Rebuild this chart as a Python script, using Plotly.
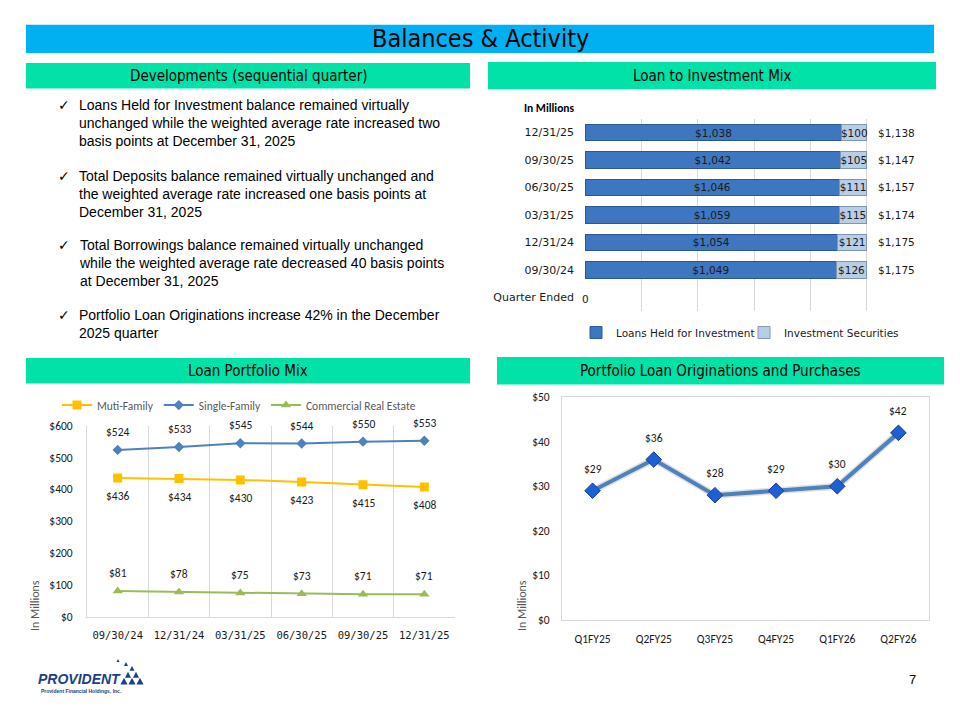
import plotly.graph_objects as go

# ---------------- data ----------------
quarters = ["09/30/24", "12/31/24", "03/31/25", "06/30/25", "09/30/25", "12/31/25"]
loans_hfi = [1049, 1054, 1059, 1046, 1042, 1038]
inv_sec = [126, 121, 115, 111, 105, 100]
bar_axis_label = "Quarter Ended"

mix_quarters = ["09/30/24", "12/31/24", "03/31/25", "06/30/25", "09/30/25", "12/31/25"]
multi_family = [436, 434, 430, 423, 415, 408]
single_family = [524, 533, 545, 544, 550, 553]
cre = [81, 78, 75, 73, 71, 71]

orig_periods = ["Q1FY25", "Q2FY25", "Q3FY25", "Q4FY25", "Q1FY26", "Q2FY26"]
originations = [29, 36, 28, 29, 30, 42]

bullets = [
    "Loans Held for Investment balance remained virtually<br>unchanged while the weighted average rate increased two<br>basis points at December 31, 2025",
    "Total Deposits balance remained virtually unchanged and<br>the weighted average rate increased one basis points at<br>December 31, 2025",
    "Total Borrowings balance remained virtually unchanged<br>while the weighted average rate decreased 40 basis points<br>at December 31, 2025",
    "Portfolio Loan Originations increase 42% in the December<br>2025 quarter",
]

# ---------------- helpers ----------------
W, H = 960, 720
def px(x):
    return x / W
def py(y):
    return 1 - y / H

NARROW = "Liberation Sans Narrow, DejaVu Sans Condensed, Arial Narrow, sans-serif"
BODY = "Liberation Sans, Arial, sans-serif"
CAL = "Carlito, Liberation Sans, Arial, sans-serif"
VER = "DejaVu Sans, Verdana, sans-serif"

def money(v):
    return "${:,}".format(v)

fig = go.Figure()

# ---------------- Loan to Investment Mix (100% stacked bar) ----------------
fig.add_trace(go.Bar(
    y=quarters, x=loans_hfi, orientation="h", name="Loans Held for Investment",
    marker=dict(color="#3E76BF", line=dict(color="#2B5796", width=1)),
    text=[money(v) for v in loans_hfi], textposition="inside", insidetextanchor="middle",
    textangle=0, constraintext="none",
    textfont=dict(size=10.5, color="#1a1a1a", family=VER),
    xaxis="x", yaxis="y", legend="legend", hoverinfo="skip",
))
fig.add_trace(go.Bar(
    y=quarters, x=inv_sec, orientation="h", name="Investment Securities",
    marker=dict(color="#B9CDE5", line=dict(color="#8096B5", width=1)),
    text=[money(v) for v in inv_sec], textposition="inside", insidetextanchor="middle",
    textangle=0, constraintext="none",
    textfont=dict(size=10.5, color="#1a1a1a", family=VER),
    xaxis="x", yaxis="y", legend="legend", hoverinfo="skip",
))

# ---------------- Loan Portfolio Mix ----------------
fig.add_trace(go.Scatter(
    x=mix_quarters, y=multi_family, name="Muti-Family", mode="lines+markers",
    line=dict(color="#FFC000", width=2), marker=dict(symbol="square", size=9, color="#FFC000"),
    xaxis="x2", yaxis="y2", legend="legend2", hoverinfo="skip",
))
fig.add_trace(go.Scatter(
    x=mix_quarters, y=single_family, name="Single-Family", mode="lines+markers",
    line=dict(color="#4F81BD", width=2), marker=dict(symbol="diamond", size=8, color="#4F81BD"),
    xaxis="x2", yaxis="y2", legend="legend2", hoverinfo="skip",
))
fig.add_trace(go.Scatter(
    x=mix_quarters, y=cre, name="Commercial Real Estate", mode="lines+markers",
    line=dict(color="#9BBB59", width=2), marker=dict(symbol="triangle-up", size=9, color="#9BBB59"),
    xaxis="x2", yaxis="y2", legend="legend2", hoverinfo="skip",
))

# ---------------- Portfolio Loan Originations ----------------
fig.add_trace(go.Scatter(
    x=orig_periods, y=originations, mode="lines", showlegend=False,
    line=dict(color="rgba(120,120,120,0.22)", width=7),
    xaxis="x3", yaxis="y3", hoverinfo="skip",
))
fig.add_trace(go.Scatter(
    x=orig_periods, y=originations, mode="lines+markers", showlegend=False,
    line=dict(color="#4F81BD", width=4),
    marker=dict(symbol="diamond", size=12, color="#1F5FD6", line=dict(color="#173F8A", width=1)),
    xaxis="x3", yaxis="y3", hoverinfo="skip",
))

annotations = []
shapes = []

def note(x, y, text, size, color="#000000", family=BODY, xanchor="center", yanchor="middle", **kw):
    annotations.append(dict(x=x, y=y, xref="paper", yref="paper", text=text, showarrow=False,
                            xanchor=xanchor, yanchor=yanchor,
                            font=dict(size=size, color=color, family=family), **kw))

# total labels and data labels
for q, a, b in zip(quarters, loans_hfi, inv_sec):
    annotations.append(dict(x=100, y=q, xref="x", yref="y", text=money(a + b), showarrow=False,
                            xanchor="left", yanchor="middle", xshift=9,
                            font=dict(size=10.5, color="#1a1a1a", family=VER)))
annotations.append(dict(x=0, y=bar_axis_label, xref="x", yref="y", text="0", showarrow=False,
                        xanchor="center", yanchor="middle", yshift=-2,
                        font=dict(size=10.5, color="#1a1a1a", family=VER)))

def labels(xs, ys, xref, yref, shift):
    for q, v in zip(xs, ys):
        annotations.append(dict(x=q, y=v, xref=xref, yref=yref, text=money(v), showarrow=False,
                                xanchor="center", yanchor="middle", yshift=shift,
                                font=dict(size=11.5, color="#1a1a1a", family=CAL)))

labels(mix_quarters, single_family, "x2", "y2", 18)
labels(mix_quarters, multi_family, "x2", "y2", -18)
labels(mix_quarters, cre, "x2", "y2", 18)
labels(orig_periods, originations, "x3", "y3", 22)

# banners
def banner(x0, y0, x1, y1, color, text, size, family):
    shapes.append(dict(type="rect", xref="paper", yref="paper", x0=px(x0), x1=px(x1),
                       y0=py(y1), y1=py(y0), fillcolor=color, line=dict(width=0), layer="below"))
    note(px((x0 + x1) / 2), py((y0 + y1) / 2), text, size, family=family)

banner(26, 18, 934, 47, "#00B0F0", "Balances &amp; Activity", 25, NARROW)
GREEN = "#00E2A8"
banner(26, 57, 470, 83, GREEN, "Developments (sequential quarter)", 15, NARROW)
banner(488, 56, 936, 84, GREEN, "Loan to Investment Mix", 15, NARROW)
banner(26, 358, 470, 384, GREEN, "Loan Portfolio Mix", 15, NARROW)
banner(497, 357, 944, 385, GREEN, "Portfolio Loan Originations and Purchases", 15, NARROW)

# bullet text
tops = [90, 162, 233, 304]
for t, txt in zip(tops, bullets):
    note(px(56), py(t), "✓", 14, family="DejaVu Sans", xanchor="left", yanchor="top")
    note(px(77), py(t), txt, 14, family=BODY, xanchor="left", yanchor="top", align="left")

# misc labels
note(px(549), py(103), "<b>In Millions</b>", 11.5, family=CAL)
note(px(35), py(611), "In Millions", 12, color="#595959", family=CAL, textangle=-90)
note(px(522), py(611), "In Millions", 12, color="#595959", family=CAL, textangle=-90)
note(px(912), py(686), "7", 13, family=BODY)

# logo
note(px(36), py(685), "<b><i>PROVIDENT</i></b>", 14, color="#1C3F86", family=BODY, xanchor="left")
note(px(39), py(698), "<b>Provident Financial Holdings, Inc.</b>", 5, color="#1C3F86",
     family=BODY, xanchor="left")
tri = [(124, 691, 7), (132, 691, 7), (140, 691, 7), (128, 684, 6), (136, 684, 6),
       (132, 677, 5), (126, 672, 4), (118, 668, 3)]
for cx, by, s in tri:
    shapes.append(dict(type="path", xref="paper", yref="paper",
                       path="M {} {} L {} {} L {} {} Z".format(px(cx - s / 2), py(by), px(cx + s / 2), py(by),
                                                             px(cx), py(by - s)),
                       fillcolor="#1C3F86", line=dict(width=0)))

GRID = "#D9D9D9"
fig.update_layout(
    width=W, height=H, margin=dict(l=0, r=0, t=0, b=0),
    paper_bgcolor="white", plot_bgcolor="white",
    barmode="stack", barnorm="percent", bargap=0.4,
    xaxis=dict(domain=[px(585), px(923)], range=[0, 120], dtick=20, showticklabels=False,
               showgrid=True, gridcolor=GRID, zeroline=False, fixedrange=True),
    yaxis=dict(domain=[py(310), py(114)], type="category",
               categoryorder="array", categoryarray=[bar_axis_label] + quarters,
               range=[-0.5, len(quarters) + 0.5],
               showgrid=False, ticks="", ticklabelstandoff=10,
               tickfont=dict(size=11, color="#1a1a1a", family=VER)),
    xaxis2=dict(domain=[px(87), px(455)], type="category", tickson="boundaries",
                range=[-0.5, len(mix_quarters) - 0.5],
                showgrid=True, gridcolor=GRID, showline=True, linecolor=GRID, ticks="",
                ticklabelstandoff=8,
                tickfont=dict(size=10.5, color="#1a1a1a", family="DejaVu Sans Mono, monospace"),
                anchor="y2"),
    yaxis2=dict(domain=[py(622), py(427)], range=[0, 600], dtick=100, tickprefix="$",
                showgrid=False, showline=True, linecolor=GRID, zeroline=False, ticks="",
                ticklabelstandoff=11,
                tickfont=dict(size=11.5, color="#1a1a1a", family=CAL), anchor="x2"),
    xaxis3=dict(domain=[px(562), px(929)], type="category",
                range=[-0.5, len(orig_periods) - 0.5],
                showgrid=False, showline=True, mirror=True, linecolor=GRID, ticks="",
                ticklabelstandoff=8,
                tickfont=dict(size=11.5, color="#1a1a1a", family=CAL), anchor="y3"),
    yaxis3=dict(domain=[py(625), py(398)], range=[0, 50], dtick=10, tickprefix="$",
                showgrid=False, showline=True, mirror=True, linecolor=GRID, zeroline=False, ticks="",
                ticklabelstandoff=9,
                tickfont=dict(size=11.5, color="#1a1a1a", family=CAL), anchor="x3"),
    legend=dict(orientation="h", x=px(576), y=py(332), xanchor="left", yanchor="middle",
                font=dict(size=10.5, color="#1a1a1a", family=VER), bgcolor="rgba(0,0,0,0)",
                itemwidth=30, traceorder="normal", entrywidth=123, entrywidthmode="pixels"),
    legend2=dict(orientation="h", x=px(57), y=py(406), xanchor="left", yanchor="middle",
                 font=dict(size=11.5, color="#595959", family=CAL), bgcolor="rgba(0,0,0,0)",
                 traceorder="normal"),
    annotations=annotations, shapes=shapes,
    font=dict(family=CAL),
)

fig.write_html("out.html", config={"displayModeBar": False},
               post_script="document.body.style.margin='0';document.body.style.overflow='hidden';")
